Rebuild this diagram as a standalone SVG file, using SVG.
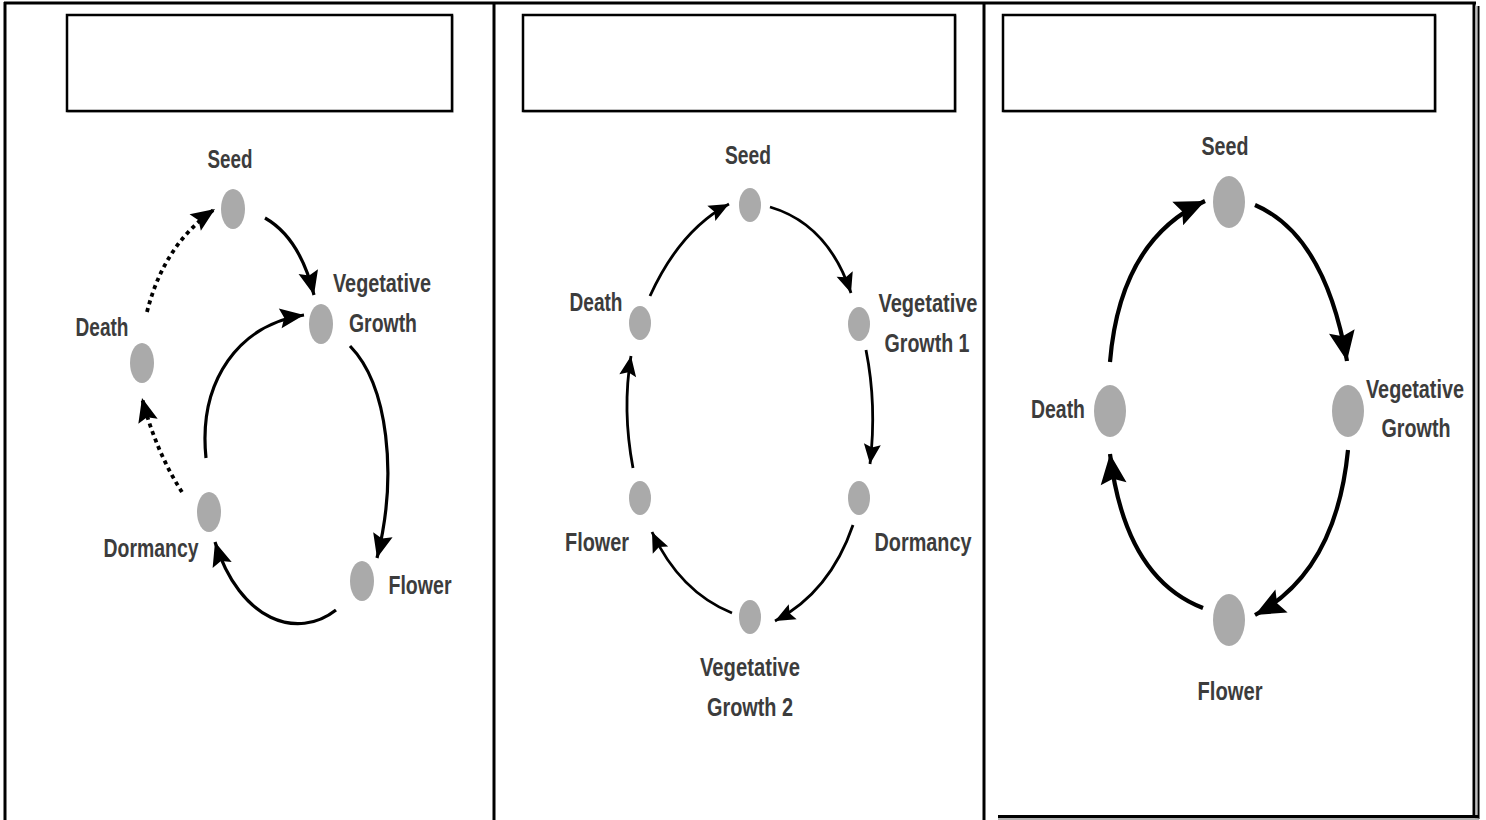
<svg xmlns="http://www.w3.org/2000/svg" width="1486" height="820" viewBox="0 0 1486 820">
<style>
.lbl{font-family:"Liberation Sans",Arial,sans-serif;font-weight:bold;font-size:26px;fill:#3c3c3c;text-anchor:middle}
.dot{fill:#aaaaaa}
.ln{fill:none;stroke:#000;stroke-linecap:butt}
.p1{stroke-width:3.2}
.p2{stroke-width:2.8}
.p3{stroke-width:4.2}
.dash{stroke-dasharray:4 4;stroke-width:3.8}
.frame{stroke:#000;stroke-width:3;fill:none}
.box{fill:#fff;stroke:#000;stroke-width:2.5}
.shadow{fill:none;stroke:#bbb;stroke-width:1.5}
</style>
<defs>
<marker id="ah1" markerUnits="userSpaceOnUse" overflow="visible" markerWidth="26" markerHeight="22" refX="24" refY="10" orient="auto"><path d="M0,0 L24,10 L0,20 L4,10 z" fill="#000"/></marker>
<marker id="ah2" markerUnits="userSpaceOnUse" overflow="visible" markerWidth="22" markerHeight="19" refX="20" refY="8.5" orient="auto"><path d="M0,0 L20,8.5 L0,17 L3.5,8.5 z" fill="#000"/></marker>
<marker id="ah3" markerUnits="userSpaceOnUse" overflow="visible" markerWidth="32" markerHeight="28" refX="30" refY="13" orient="auto"><path d="M0,0 L30,13 L0,26 L5,13 z" fill="#000"/></marker>
</defs>
<rect width="1486" height="820" fill="#fff"/>
<g id="frame">
<line class="frame" x1="4" y1="3" x2="1476" y2="3"/>
<line class="frame" x1="5" y1="2" x2="5" y2="820"/>
<line class="frame" x1="494" y1="2" x2="494" y2="820"/>
<line class="frame" x1="984" y1="2" x2="984" y2="820"/>
<line class="frame" x1="1474" y1="2" x2="1474" y2="817"/>
<line x1="1476" y1="6" x2="1476" y2="819" stroke="#aaa" stroke-width="1.5"/>
<line x1="1478.5" y1="6" x2="1478.5" y2="819" stroke="#000" stroke-width="2"/>
<line x1="998" y1="816.5" x2="1479" y2="816.5" stroke="#000" stroke-width="3"/>
<line x1="998" y1="819" x2="1479" y2="819" stroke="#999" stroke-width="1.5"/>
</g>
<g id="title-boxes">
<rect class="shadow" x="68" y="16" width="385" height="96"/>
<rect class="box" x="67" y="15" width="385" height="96"/>
<rect class="shadow" x="524" y="16" width="432" height="96"/>
<rect class="box" x="523" y="15" width="432" height="96"/>
<rect class="shadow" x="1004" y="16" width="432" height="96"/>
<rect class="box" x="1003" y="15" width="432" height="96"/>
</g>
<!-- Panel 1 -->
<g id="p1-connectors">
<path class="ln p1" d="M265,218 Q300,238 314,295" marker-end="url(#ah1)"/>
<path class="ln p1" d="M350,346 C388,385 398,475 377,558" marker-end="url(#ah1)"/>
<path class="ln p1" d="M336,610 C298,640 240,622 215,542" marker-end="url(#ah1)"/>
<path class="ln p1" d="M206,458 C198,380 240,324 304,315" marker-end="url(#ah1)"/>
<path class="ln dash" d="M182,492 Q156,452 142,398" marker-end="url(#ah1)"/>
<path class="ln dash" d="M147,312 Q164,244 215,209" marker-end="url(#ah1)"/>
</g>
<g id="p1-seed"><ellipse class="dot" cx="233" cy="209" rx="12" ry="20"/><text class="lbl" x="230" y="168" textLength="45" lengthAdjust="spacingAndGlyphs">Seed</text></g>
<g id="p1-veg"><ellipse class="dot" cx="321" cy="324" rx="12" ry="20"/><text class="lbl" x="382" y="292" textLength="98" lengthAdjust="spacingAndGlyphs">Vegetative</text><text class="lbl" x="383" y="332" textLength="68" lengthAdjust="spacingAndGlyphs">Growth</text></g>
<g id="p1-death"><ellipse class="dot" cx="142" cy="363" rx="12" ry="20"/><text class="lbl" x="102" y="336" textLength="53" lengthAdjust="spacingAndGlyphs">Death</text></g>
<g id="p1-dormancy"><ellipse class="dot" cx="209" cy="512" rx="12" ry="20"/><text class="lbl" x="151" y="557" textLength="95" lengthAdjust="spacingAndGlyphs">Dormancy</text></g>
<g id="p1-flower"><ellipse class="dot" cx="362" cy="581" rx="12" ry="20"/><text class="lbl" x="420" y="594" textLength="63" lengthAdjust="spacingAndGlyphs">Flower</text></g>
<!-- Panel 2 -->
<g id="p2-connectors">
<path class="ln p2" d="M770,207 Q828,224 851,293" marker-end="url(#ah2)"/>
<path class="ln p2" d="M866,350 Q877,405 870,464" marker-end="url(#ah2)"/>
<path class="ln p2" d="M853,525 Q830,592 775,621" marker-end="url(#ah2)"/>
<path class="ln p2" d="M732,613 Q680,592 652,532" marker-end="url(#ah2)"/>
<path class="ln p2" d="M633,468 Q622,410 631,356" marker-end="url(#ah2)"/>
<path class="ln p2" d="M650,296 Q680,230 729,204" marker-end="url(#ah2)"/>
</g>
<g id="p2-seed"><ellipse class="dot" cx="750" cy="205" rx="11" ry="17"/><text class="lbl" x="748" y="164" textLength="46" lengthAdjust="spacingAndGlyphs">Seed</text></g>
<g id="p2-veg1"><ellipse class="dot" cx="859" cy="324" rx="11" ry="17"/><text class="lbl" x="928" y="312" textLength="99" lengthAdjust="spacingAndGlyphs">Vegetative</text><text class="lbl" x="927" y="352" textLength="85" lengthAdjust="spacingAndGlyphs">Growth 1</text></g>
<g id="p2-dormancy"><ellipse class="dot" cx="859" cy="498" rx="11" ry="17"/><text class="lbl" x="923" y="551" textLength="97" lengthAdjust="spacingAndGlyphs">Dormancy</text></g>
<g id="p2-veg2"><ellipse class="dot" cx="750" cy="617" rx="11" ry="17"/><text class="lbl" x="750" y="676" textLength="100" lengthAdjust="spacingAndGlyphs">Vegetative</text><text class="lbl" x="750" y="716" textLength="86" lengthAdjust="spacingAndGlyphs">Growth 2</text></g>
<g id="p2-flower"><ellipse class="dot" cx="640" cy="498" rx="11" ry="17"/><text class="lbl" x="597" y="551" textLength="64" lengthAdjust="spacingAndGlyphs">Flower</text></g>
<g id="p2-death"><ellipse class="dot" cx="640" cy="323" rx="11" ry="17"/><text class="lbl" x="596" y="311" textLength="53" lengthAdjust="spacingAndGlyphs">Death</text></g>
<!-- Panel 3 -->
<g id="p3-connectors">
<path class="ln p3" d="M1255,205 Q1325,235 1347,361" marker-end="url(#ah3)"/>
<path class="ln p3" d="M1348,450 Q1336,572 1255,615" marker-end="url(#ah3)"/>
<path class="ln p3" d="M1203,608 Q1125,578 1110,454" marker-end="url(#ah3)"/>
<path class="ln p3" d="M1110,362 Q1120,240 1205,201" marker-end="url(#ah3)"/>
</g>
<g id="p3-seed"><ellipse class="dot" cx="1229" cy="202" rx="16" ry="26"/><text class="lbl" x="1225" y="155" textLength="47" lengthAdjust="spacingAndGlyphs">Seed</text></g>
<g id="p3-veg"><ellipse class="dot" cx="1348" cy="411" rx="16" ry="26"/><text class="lbl" x="1415" y="398" textLength="98" lengthAdjust="spacingAndGlyphs">Vegetative</text><text class="lbl" x="1416" y="437" textLength="69" lengthAdjust="spacingAndGlyphs">Growth</text></g>
<g id="p3-flower"><ellipse class="dot" cx="1229" cy="620" rx="16" ry="26"/><text class="lbl" x="1230" y="700" textLength="65" lengthAdjust="spacingAndGlyphs">Flower</text></g>
<g id="p3-death"><ellipse class="dot" cx="1110" cy="411" rx="16" ry="26"/><text class="lbl" x="1058" y="418" textLength="54" lengthAdjust="spacingAndGlyphs">Death</text></g>
</svg>
